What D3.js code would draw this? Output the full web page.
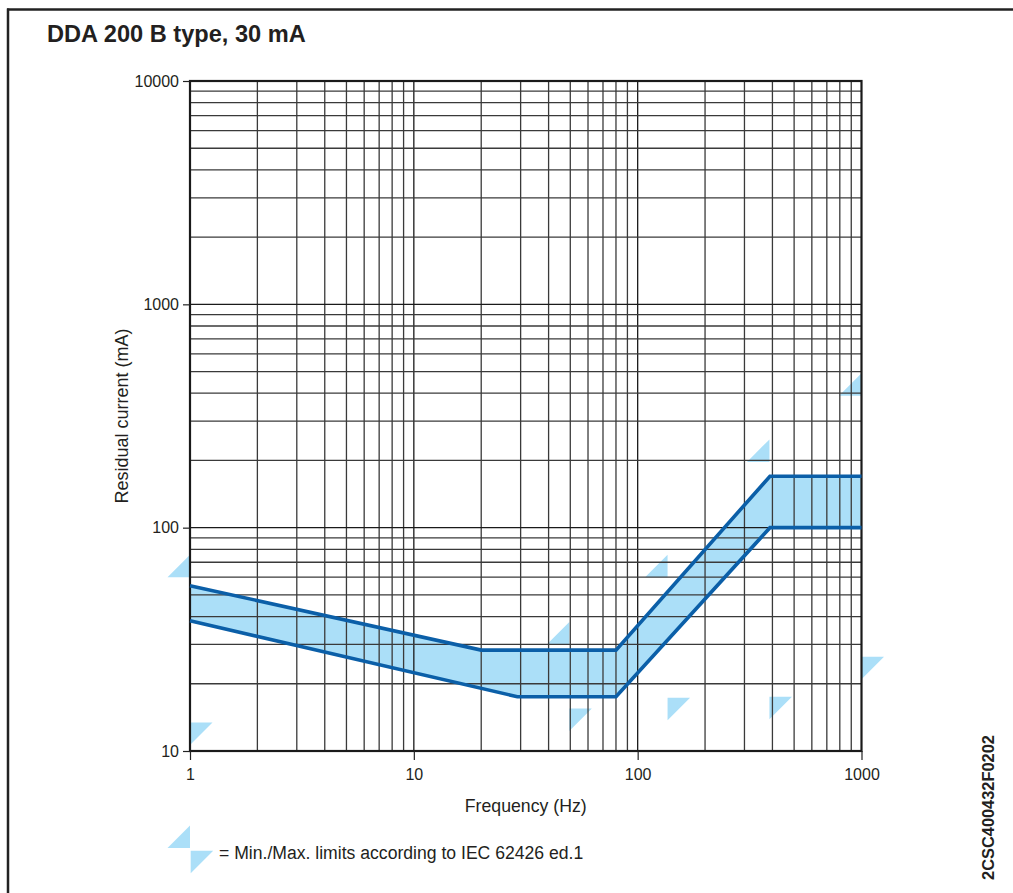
<!DOCTYPE html>
<html>
<head>
<meta charset="utf-8">
<script src="https://cdn.jsdelivr.net/npm/d3@7"></script>
<style>
  html, body { margin: 0; padding: 0; background: #fff; }
  svg { display: block; }
  text { font-family: "Liberation Sans", Arial, Helvetica, sans-serif; fill: #231f20; }
</style>
</head>
<body>
<svg id="chart" width="1013" height="893"></svg>
<script>
// ---- data ----
const title = "DDA 200 B type, 30 mA";
const xLabel = "Frequency (Hz)";
const yLabel = "Residual current (mA)";
const docCode = "2CSC400432F0202";
const legendText = "= Min./Max. limits according to IEC 62426 ed.1";

const xTicks = [1, 10, 100, 1000];
const yTicks = [10, 100, 1000, 10000];

// upper boundary of the tripping band (frequency Hz, current mA)
const upperFreq = [1, 20, 80, 390, 1000];
const upperVals = [55, 28.3, 28.3, 170, 170];
// lower boundary of the tripping band
const lowerFreq = [1, 29, 80, 390, 1000];
const lowerVals = [38.3, 17.5, 17.5, 100, 100];

// IEC max limits (triangles, corner at bottom-right)
const maxFreq = [1, 49.5, 136, 388, 1000];
const maxVals = [60, 30, 60, 197, 390];
// IEC min limits (triangles, corner at top-left)
const minFreq = [1, 49.5, 136, 388, 1000];
const minVals = [13.4, 15.5, 17.3, 17.5, 26.4];

// ---- drawing ----
const svg = d3.select("#chart");
const pL = 190, pR = 861.5, pT = 81, pB = 751;
const x = d3.scaleLog().domain([1, 1000]).range([pL, pR]);
const y = d3.scaleLog().domain([10, 10000]).range([pB, pT]);

const lineColor = "#0b5fa8";
const fillColor = "#abdff8";

// outer frame (top and left)
svg.append("line").attr("x1", 7).attr("x2", 1013).attr("y1", 9.5).attr("y2", 9.5)
  .attr("stroke", "#222").attr("stroke-width", 2.5);
svg.append("line").attr("x1", 8).attr("x2", 8).attr("y1", 8.5).attr("y2", 893)
  .attr("stroke", "#222").attr("stroke-width", 2.5);

// title
svg.append("text").attr("x", 47).attr("y", 42).attr("font-size", 23.6).attr("font-weight", "bold")
  .text(title);

// band fill
const ptsU = upperFreq.map((f, i) => [x(f), y(upperVals[i])]);
const ptsL = lowerFreq.map((f, i) => [x(f), y(lowerVals[i])]);
svg.append("path").attr("d", d3.line()(ptsU.concat(ptsL.slice().reverse())) + "Z")
  .attr("fill", fillColor).attr("stroke", "none");

// IEC triangles
const tri = 22.5;
const gTri = svg.append("g").attr("fill", fillColor);
maxFreq.forEach((f, i) => {
  const cx = x(f), cy = y(maxVals[i]);
  gTri.append("path").attr("d", `M${cx},${cy}L${cx - tri},${cy}L${cx},${cy - tri}Z`);
});
minFreq.forEach((f, i) => {
  const cx = x(f), cy = y(minVals[i]);
  gTri.append("path").attr("d", `M${cx},${cy}L${cx + tri},${cy}L${cx},${cy + tri}Z`);
});

// grid
const grid = svg.append("g").attr("stroke-width", 1.3);
const xGrid = [];
for (let d = 1; d < 1000; d *= 10) for (let k = 1; k <= 9; k++) xGrid.push(d * k);
const yGrid = [];
for (let d = 10; d < 10000; d *= 10) for (let k = 1; k <= 9; k++) yGrid.push(d * k);
xGrid.forEach(v => grid.append("line").attr("x1", x(v)).attr("x2", x(v)).attr("y1", pT).attr("y2", pB)
  .attr("stroke", [1, 10, 100].includes(v) ? "#1a1a1a" : "#3a3a3a"));
yGrid.forEach(v => grid.append("line").attr("y1", y(v)).attr("y2", y(v)).attr("x1", pL).attr("x2", pR)
  .attr("stroke", [10, 100, 1000].includes(v) ? "#1a1a1a" : "#3a3a3a"));

// plot border
svg.append("rect").attr("x", pL).attr("y", pT).attr("width", pR - pL).attr("height", pB - pT)
  .attr("fill", "none").attr("stroke", "#1a1a1a").attr("stroke-width", 2.2);

// axes (ticks + labels)
const yAxis = d3.axisLeft(y).tickValues(yTicks).tickFormat(d3.format("d")).tickSize(7).tickPadding(4);
const gy = svg.append("g").attr("transform", `translate(${pL},0)`).call(yAxis);
gy.select(".domain").remove();
gy.selectAll("line").attr("stroke", "#222").attr("stroke-width", 1.2);
gy.selectAll("text").attr("font-size", 16).attr("font-family", "Liberation Sans, Arial, sans-serif").attr("fill", "#231f20");

const xAxis = d3.axisBottom(x).tickValues(xTicks).tickFormat(d3.format("d")).tickSize(9).tickPadding(9);
const gx = svg.append("g").attr("transform", `translate(0,${pB})`).call(xAxis);
gx.select(".domain").remove();
gx.selectAll("line").attr("stroke", "#222").attr("stroke-width", 1.2);
gx.selectAll("text").attr("font-size", 16).attr("font-family", "Liberation Sans, Arial, sans-serif").attr("fill", "#231f20");

// band lines
const lineGen = d3.line();
[ptsU, ptsL].forEach(p => svg.append("path").attr("d", lineGen(p))
  .attr("fill", "none").attr("stroke", lineColor).attr("stroke-width", 3.6).attr("stroke-linejoin", "miter"));

// axis titles
svg.append("text").attr("x", (pL + pR) / 2).attr("y", 811.5).attr("text-anchor", "middle")
  .attr("font-size", 17.7).text(xLabel);
svg.append("text").attr("transform", `translate(127.5,${(pT + pB) / 2}) rotate(-90)`)
  .attr("text-anchor", "middle").attr("font-size", 18).text(yLabel);

// document code
svg.append("text").attr("transform", `translate(994,807.5) rotate(-90)`)
  .attr("text-anchor", "middle").attr("font-size", 16.4).attr("font-weight", "bold").text(docCode);

// legend
const lg = svg.append("g").attr("fill", fillColor);
lg.append("path").attr("d", "M190,848L167.5,848L190,825.5Z");
lg.append("path").attr("d", "M190.7,850.7L213.2,850.7L190.7,873.2Z");
svg.append("text").attr("x", 219).attr("y", 858.5).attr("font-size", 17.6).text(legendText);
</script>
</body>
</html>
